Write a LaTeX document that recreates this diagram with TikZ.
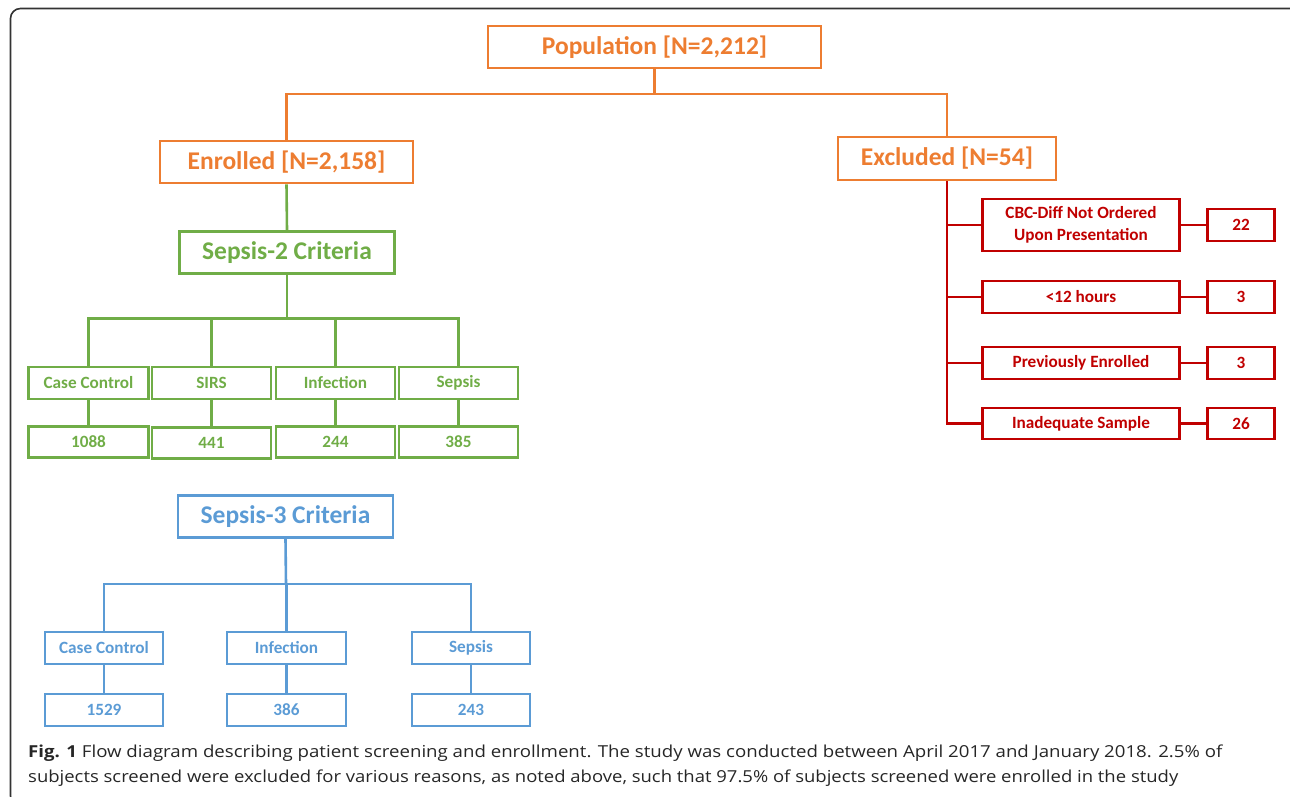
\documentclass[tikz,border=0pt]{standalone}
\usepackage{fontspec}
\setmainfont{Carlito}
\newfontfamily\capfont{Open Sans}
\definecolor{cOr}{HTML}{ED7D31}
\definecolor{cGr}{HTML}{70AD47}
\definecolor{cBl}{HTML}{5B9BD5}
\definecolor{cRd}{HTML}{C00000}
\tikzset{
  bx/.style={draw, line width=2.6pt, inner sep=0pt, align=center, font=\bfseries},
  big/.style={bx, font=\fontsize{25.5}{30}\selectfont\bfseries},
  mid/.style={bx, font=\fontsize{25.5}{30}\selectfont\bfseries},
  sml/.style={bx, font=\fontsize{17.2}{20}\selectfont\bfseries},
  rsm/.style={bx, font=\fontsize{17.2}{22}\selectfont\bfseries},
  ln/.style={line width=2.6pt},
  captxt/.style={anchor=base west, inner sep=0pt, font=\capfont\fontsize{16.5}{19}\selectfont, text=black!85},
}
\begin{document}
\begin{tikzpicture}[x=1pt,y=-1pt]
\useasboundingbox (0,0) rectangle (1290,797);
\clip (0,0) rectangle (1290,797);
\draw[line width=1.6pt, draw=black!80, rounded corners=10pt] (10.5,8.5) rectangle (1300,806);

% orange
\node[big, draw=cOr, text=cOr, minimum width=333pt, minimum height=42pt] (pop) at (654.5,47) {Population [N=2,212]};
\node[big, draw=cOr, text=cOr, minimum width=253pt, minimum height=42pt] (enr) at (286.5,162) {Enrolled [N=2,158]};
\node[big, draw=cOr, text=cOr, minimum width=218pt, minimum height=43pt] (exc) at (947,158.5) {Excluded [N=54]};
\coordinate (ob) at (654.5,94);
\draw[ln, cOr] (pop.south) -- (ob);
\draw[ln, cOr] (enr.north) |- (ob) -| (exc.north);

% green
\node[mid, draw=cGr, text=cGr, minimum width=215pt, minimum height=42pt] (s2) at (287,252.5) {Sepsis-2 Criteria};
\draw[ln, cGr] (enr.south) -- (s2.north);
\node[sml, draw=cGr, text=cGr, minimum width=120pt, minimum height=32pt] (cc2) at (88.5,383) {Case Control};
\node[sml, draw=cGr, text=cGr, minimum width=119pt, minimum height=32pt] (sirs) at (211.5,383) {SIRS};
\node[sml, draw=cGr, text=cGr, minimum width=119pt, minimum height=32pt] (inf2) at (335.5,383) {Infection};
\node[sml, draw=cGr, text=cGr, minimum width=119pt, minimum height=32pt] (sep2) at (458.5,383) {Sepsis};
\node[sml, draw=cGr, text=cGr, minimum width=120pt, minimum height=31pt] (n1088) at (88.5,442) {1088};
\node[sml, draw=cGr, text=cGr, minimum width=119pt, minimum height=31pt] (n441) at (211.5,443) {441};
\node[sml, draw=cGr, text=cGr, minimum width=119pt, minimum height=31pt] (n244) at (335.5,442) {244};
\node[sml, draw=cGr, text=cGr, minimum width=119pt, minimum height=31pt] (n385) at (458.5,442) {385};
\coordinate (gb) at (287,318.5);
\draw[ln, cGr] (s2.south) -- (gb);
\draw[ln, cGr] (cc2.north) |- (gb) -| (sep2.north);
\draw[ln, cGr] (sirs.north) -- (sirs.north |- gb);
\draw[ln, cGr] (inf2.north) -- (inf2.north |- gb);
\draw[ln, cGr] (cc2.south) -- (n1088.north);
\draw[ln, cGr] (sirs.south) -- (n441.north);
\draw[ln, cGr] (inf2.south) -- (n244.north);
\draw[ln, cGr] (sep2.south) -- (n385.north);

% blue
\node[mid, draw=cBl, text=cBl, minimum width=215pt, minimum height=42pt] (s3) at (285.5,516.5) {Sepsis-3 Criteria};
\node[sml, draw=cBl, text=cBl, minimum width=118pt, minimum height=32pt] (cc3) at (104,648) {Case Control};
\node[sml, draw=cBl, text=cBl, minimum width=119pt, minimum height=32pt] (inf3) at (286.5,648) {Infection};
\node[sml, draw=cBl, text=cBl, minimum width=118pt, minimum height=32pt] (sep3) at (471,648) {Sepsis};
\node[sml, draw=cBl, text=cBl, minimum width=118pt, minimum height=32pt] (n1529) at (104,710) {1529};
\node[sml, draw=cBl, text=cBl, minimum width=119pt, minimum height=32pt] (n386) at (286.5,710) {386};
\node[sml, draw=cBl, text=cBl, minimum width=118pt, minimum height=32pt] (n243) at (471,710) {243};
\coordinate (bb) at (286,584);
\draw[ln, cBl] (s3.south) -- (bb);
\draw[ln, cBl] (cc3.north) |- (bb) -| (sep3.north);
\draw[ln, cBl] (inf3.north) -- (inf3.north |- bb);
\draw[ln, cBl] (cc3.south) -- (n1529.north);
\draw[ln, cBl] (inf3.south) -- (n386.north);
\draw[ln, cBl] (sep3.south) -- (n243.north);

% red
\node[rsm, draw=cRd, text=cRd, minimum width=197pt, minimum height=52pt] (cbc) at (1081,225) {CBC-Diff Not Ordered\\Upon Presentation};
\node[rsm, draw=cRd, text=cRd, minimum width=197pt, minimum height=32pt] (h12) at (1081,297) {{<}12 hours};
\node[rsm, draw=cRd, text=cRd, minimum width=197pt, minimum height=32pt] (prev) at (1081,363) {Previously Enrolled};
\node[rsm, draw=cRd, text=cRd, minimum width=197pt, minimum height=31pt] (inad) at (1081,423.5) {Inadequate Sample};
\node[rsm, draw=cRd, text=cRd, minimum width=67pt, minimum height=32pt] (r22) at (1241,225) {22};
\node[rsm, draw=cRd, text=cRd, minimum width=67pt, minimum height=32pt] (r3a) at (1241,297) {3};
\node[rsm, draw=cRd, text=cRd, minimum width=67pt, minimum height=32pt] (r3b) at (1241,363) {3};
\node[rsm, draw=cRd, text=cRd, minimum width=67pt, minimum height=31pt] (r26) at (1241,423.5) {26};
\draw[ln, cRd] (exc.south) -- (exc.south |- inad.west) -- (inad.west);
\draw[ln, cRd] (exc.south |- cbc.west) -- (cbc.west);
\draw[ln, cRd] (exc.south |- h12.west) -- (h12.west);
\draw[ln, cRd] (exc.south |- prev.west) -- (prev.west);
\draw[ln, cRd] (cbc.east) -- (r22.west);
\draw[ln, cRd] (h12.east) -- (r3a.west);
\draw[ln, cRd] (prev.east) -- (r3b.west);
\draw[ln, cRd] (inad.east) -- (r26.west);

% caption
\node[captxt] (cap1) at (28,757) {\resizebox{1194pt}{\height}{\textbf{Fig. 1} Flow diagram describing patient screening and enrollment. The study was conducted between April 2017 and January 2018. 2.5\% of}};
\node[captxt] (cap2) at (28,782) {\resizebox{1150pt}{\height}{subjects screened were excluded for various reasons, as noted above, such that 97.5\% of subjects screened were enrolled in the study}};
\end{tikzpicture}
\end{document}
